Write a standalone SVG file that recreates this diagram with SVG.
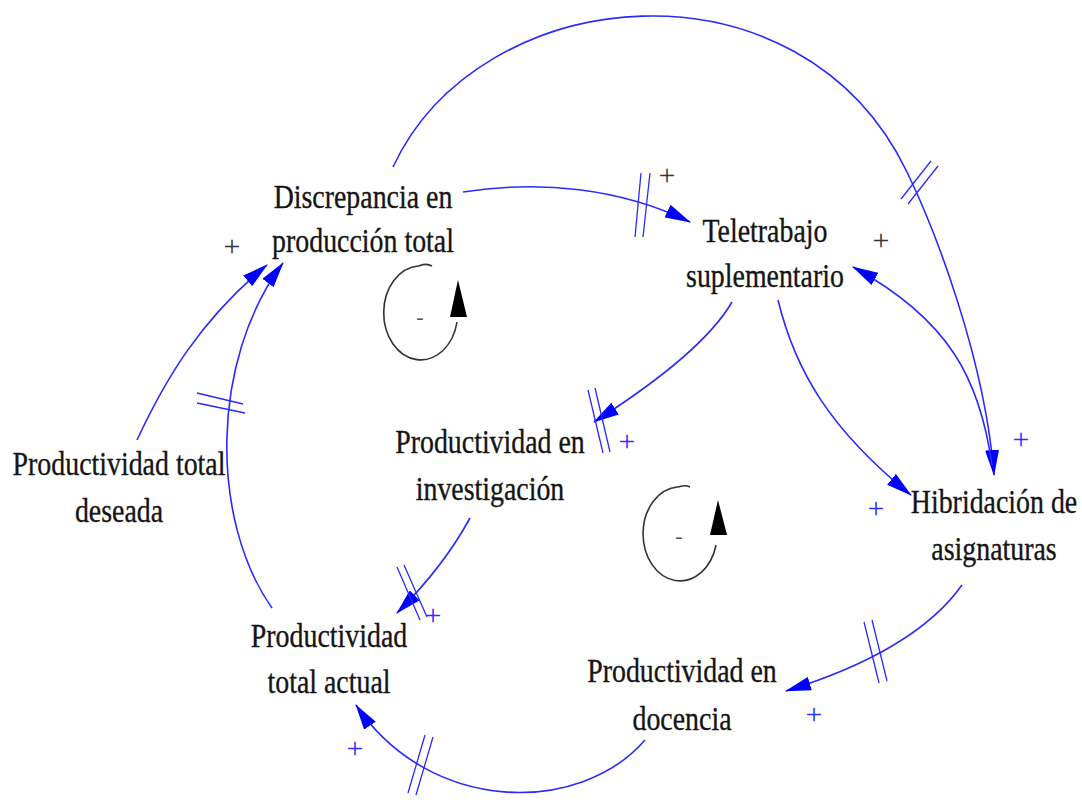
<svg xmlns="http://www.w3.org/2000/svg" width="1082" height="800" viewBox="0 0 1082 800">
<style>
.lbl{font-family:"Liberation Serif","Times New Roman",serif;font-size:34px;fill:#151515;stroke:#151515;stroke-width:0.35;text-anchor:middle}
.link{fill:none;stroke:#2a2aff;stroke-width:1.6}
.delay{fill:none;stroke:#2a2aff;stroke-width:1.3}
.pb{font-family:"Liberation Serif",serif;font-size:30px;fill:#3030ff;text-anchor:middle}
.pk{font-family:"Liberation Serif",serif;font-size:30px;fill:#333;text-anchor:middle}
.loop{fill:none;stroke:#333;stroke-width:1.6}
.ms{font-family:"Liberation Serif",serif;font-size:22px;fill:#555;text-anchor:middle}
</style>
<defs>
<marker id="ah" markerUnits="userSpaceOnUse" viewBox="0 0 26 14" refX="25" refY="7" markerWidth="26" markerHeight="14" orient="auto">
<path d="M0,0 L26,7 L0,14 z" fill="#0000ff"/>
</marker>
</defs>
<rect width="1082" height="800" fill="#ffffff"/>
<g id="connectors">
<path class="link" marker-end="url(#ah)" d="M463,192 C540,180 620,188 690,222"/>
<path class="link" marker-end="url(#ah)" d="M393,167 C480,-20 800,-50 907,172 C936,232 985,360 994,475"/>
<path class="link" marker-end="url(#ah)" d="M732,302 C710,340 660,380 594,422"/>
<path class="link" marker-end="url(#ah)" d="M778,300 C795,370 830,430 911,495"/>
<path class="link" marker-end="url(#ah)" d="M992,465 C980,380 950,320 853,267"/>
<path class="link" marker-end="url(#ah)" d="M962,585 C930,630 870,665 786,691"/>
<path class="link" marker-end="url(#ah)" d="M645,740 C580,815 430,815 356,705"/>
<path class="link" marker-end="url(#ah)" d="M470,518 C450,555 425,585 397,613"/>
<path class="link" marker-end="url(#ah)" d="M272,608 C210,520 210,360 283,263"/>
<path class="link" marker-end="url(#ah)" d="M137,440 C165,380 200,320 267,265"/>
<path class="delay" d="M641,173 L635,237 M650,173 L643,237"/>
<path class="delay" d="M901,199 L931,161 M908,204 L938,166"/>
<path class="delay" d="M588,390 L603,453 M595,388 L610,452"/>
<path class="delay" d="M864,622 L879,683 M872,620 L887,681"/>
<path class="delay" d="M425,735 L408,793 M433,737 L416,795"/>
<path class="delay" d="M397,567 L420,620 M404,565 L427,617"/>
<path class="delay" d="M197,393 L243,404 M197,403 L245,413"/>
</g>
<g id="signs">
<text class="pk" x="232" y="256">+</text>
<text class="pk" x="667" y="185">+</text>
<text class="pk" x="881" y="250">+</text>
<text class="pb" x="627" y="451">+</text>
<text class="pb" x="1021" y="449">+</text>
<text class="pb" x="876" y="518">+</text>
<text class="pb" x="433" y="625">+</text>
<text class="pb" x="814" y="724">+</text>
<text class="pb" x="355" y="758">+</text>
</g>
<g id="loop1">
<path class="loop" d="M432,266 C425,262 420,266 418,266 A37,47 0 1,0 457,322"/>
<polygon points="458,280 450,317 467,317" fill="#000"/>
<text class="ms" x="420" y="324">-</text>
</g>
<g id="loop2">
<path class="loop" d="M690,487 C684,484 680,487 677,487 A37,47 0 1,0 716,545"/>
<polygon points="718,500 710,535 727,535" fill="#000"/>
<text class="ms" x="679" y="543">-</text>
</g>
<g id="n-discrepancia" transform="translate(363,0) scale(0.82,1)">
<text class="lbl" x="0" y="208">Discrepancia en</text>
<text class="lbl" x="0" y="252">producción total</text>
</g>
<g id="n-teletrabajo" transform="translate(765,0) scale(0.82,1)">
<text class="lbl" x="0" y="242">Teletrabajo</text>
<text class="lbl" x="0" y="287">suplementario</text>
</g>
<g id="n-investigacion" transform="translate(490,0) scale(0.82,1)">
<text class="lbl" x="0" y="453">Productividad en</text>
<text class="lbl" x="0" y="500">investigación</text>
</g>
<g id="n-deseada" transform="translate(119,0) scale(0.82,1)">
<text class="lbl" x="0" y="475">Productividad total</text>
<text class="lbl" x="0" y="522">deseada</text>
</g>
<g id="n-hibridacion" transform="translate(994,0) scale(0.82,1)">
<text class="lbl" x="0" y="513">Hibridación de</text>
<text class="lbl" x="0" y="560">asignaturas</text>
</g>
<g id="n-actual" transform="translate(329,0) scale(0.82,1)">
<text class="lbl" x="0" y="647">Productividad</text>
<text class="lbl" x="0" y="693">total actual</text>
</g>
<g id="n-docencia" transform="translate(682,0) scale(0.82,1)">
<text class="lbl" x="0" y="682">Productividad en</text>
<text class="lbl" x="0" y="730">docencia</text>
</g>
</svg>
